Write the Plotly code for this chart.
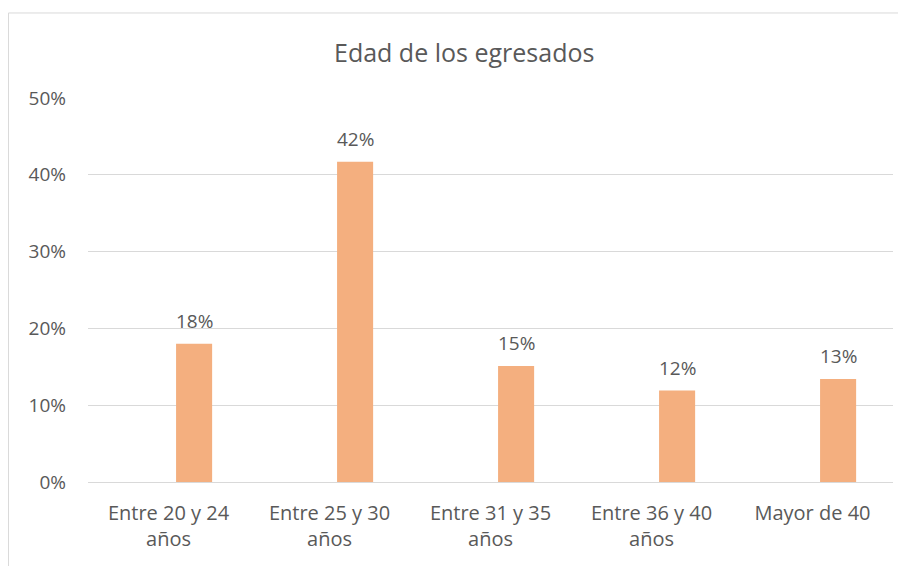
import plotly.graph_objects as go

categorias = ["Entre 20 y 24<br>años", "Entre 25 y 30<br>años", "Entre 31 y 35<br>años",
              "Entre 36 y 40<br>años", "Mayor de 40"]
porcentajes = [0.180, 0.417, 0.151, 0.119, 0.134]

gris_texto = "#595959"
gris_linea = "#d9d9d9"
fuente = "'Open Sans', sans-serif"

fig = go.Figure()
fig.add_trace(go.Bar(
    x=categorias,
    y=porcentajes,
    marker=dict(color="#F4AF7F", line=dict(width=0)),
    width=0.224,
    offset=0.047,
    hoverinfo="x+y",
))

# etiquetas de datos encima de cada barra
etiquetas = [dict(
    x=c, y=v, xref="x", yref="y", text=f"{v:.0%}",
    showarrow=False, xshift=25.5, yshift=8, yanchor="bottom",
    font=dict(size=19, color=gris_texto),
) for c, v in zip(categorias, porcentajes)]

fig.update_layout(
    width=898, height=558,
    margin=dict(l=80, r=13, t=90, b=84),
    paper_bgcolor="white", plot_bgcolor="white",
    font=dict(family=fuente, color=gris_texto),
    showlegend=False,
    annotations=etiquetas + [dict(
        text="Edad de los egresados", x=0.467, y=1.12, xref="paper", yref="paper",
        xanchor="center", yanchor="middle",
        showarrow=False, font=dict(size=25, color=gris_texto),
    )],
    shapes=[dict(
        type="rect", xref="paper", yref="paper",
        x0=-0.0988, x1=1.0149, y0=-0.25, y1=1.2214,
        line=dict(color=gris_linea, width=1), layer="below",
    )],
)

fig.update_xaxes(
    showgrid=False, showline=False, ticks="",
    ticklabelstandoff=17,
    tickfont=dict(size=20, color=gris_texto),
)
fig.update_yaxes(
    range=[0, 0.5], dtick=0.1, tickformat=".0%",
    showgrid=True, gridcolor=gris_linea, gridwidth=1,
    zeroline=True, zerolinecolor=gris_linea, zerolinewidth=1,
    showline=False, ticks="", ticklabelstandoff=21,
    tickfont=dict(size=19, color=gris_texto),
)

fig.write_html("out.html")
